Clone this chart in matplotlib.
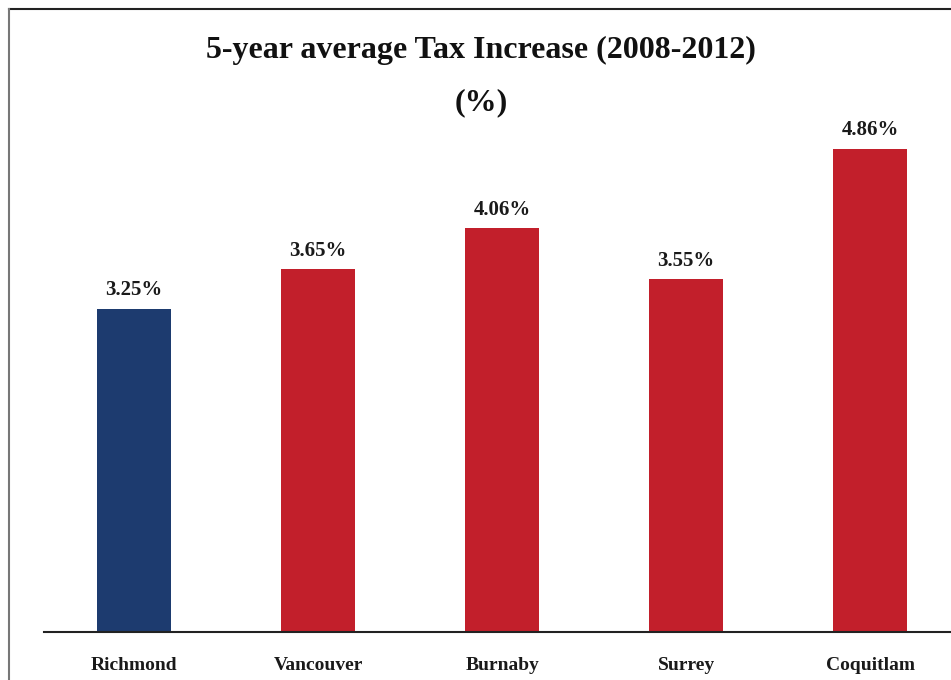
import matplotlib.pyplot as plt
from matplotlib.lines import Line2D

cities = ['Richmond', 'Vancouver', 'Burnaby', 'Surrey', 'Coquitlam']
tax_increase = [3.25, 3.65, 4.06, 3.55, 4.86]
bar_colors = ['#1d3b6f', '#c21f2b', '#c21f2b', '#c21f2b', '#c21f2b']

plt.rcParams['font.family'] = ['Liberation Serif', 'DejaVu Serif']

fig = plt.figure(figsize=(9.51, 6.8), dpi=100)
W, H = 951, 680
# axes: baseline at y=632px, left edge at x=44px
ax = fig.add_axes([44 / W, (H - 632) / H, (951 - 44) / W, (632 - 85) / H])
x = range(len(cities))
bars = ax.bar(x, tax_increase, width=0.40, color=bar_colors, zorder=2)
ax.set_xlim(-0.49, 4.44)
ax.set_ylim(0, 5.5)

for rect, v in zip(bars, tax_increase):
    ax.annotate(f'{v:.2f}%', (rect.get_x() + rect.get_width() / 2, v),
                xytext=(0, 6), textcoords='offset points', ha='center', va='bottom',
                fontsize=15, fontweight='bold', color='#1a1a1a')

for s in ['top', 'right', 'left']:
    ax.spines[s].set_visible(False)
ax.spines['bottom'].set_color('#222222')
ax.spines['bottom'].set_linewidth(1.5)
ax.set_yticks([])
ax.set_xticks(list(x))
ax.set_xticklabels(cities, fontsize=14, fontweight='bold', color='#1a1a1a')
ax.tick_params(axis='x', length=0, pad=18)

fig.text(481 / W, 1 - 50 / H, '5-year average Tax Increase (2008-2012)', ha='center', va='center',
         fontsize=23, fontweight='bold', color='#111111')
fig.text(481 / W, 1 - 103 / H, '(%)', ha='center', va='center',
         fontsize=23, fontweight='bold', color='#111111')

# frame lines along the top and left edges
fig.add_artist(Line2D([9 / W, 1], [1 - 9 / H, 1 - 9 / H], color='#222222', linewidth=1.5))
fig.add_artist(Line2D([9 / W, 9 / W], [0, 1 - 9 / H], color='#777777', linewidth=1.5))

fig.savefig('out.png', dpi=100)
